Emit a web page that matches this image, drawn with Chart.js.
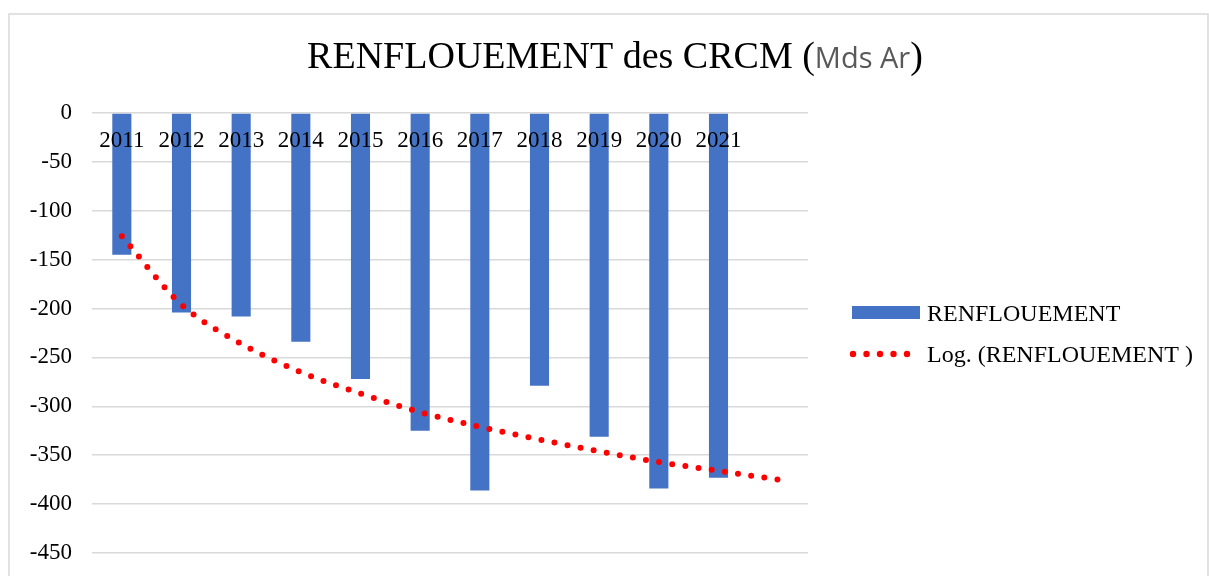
<!DOCTYPE html>
<html>
<head>
<meta charset="utf-8">
<script src="https://cdn.jsdelivr.net/npm/chart.js@4/dist/chart.umd.min.js"></script>
<style>
    html, body { margin: 0; padding: 0; background: #ffffff; }
    canvas { display: block; }
</style>
</head>
<body>
<canvas id="chart" width="1209" height="576"></canvas>
<script>

// Data
const years = ['2011', '2012', '2013', '2014', '2015', '2016', '2017', '2018', '2019', '2020', '2021', ''];
const renflouement = [-145, -204, -208, -234, -272, -325, -386, -279, -331, -384, -373];
const logTrend = [-126, -196, -236, -265, -287, -306, -321, -334, -346, -357, -366, -375];
const yTicks = [0, -50, -100, -150, -200, -250, -300, -350, -400, -450];

// Labels
const titleParts = [
    { text: 'RENFLOUEMENT des CRCM (', font: '38px "Liberation Serif"', color: '#000000' },
    { text: 'Mds Ar', font: '29px "Open Sans"', color: '#595959' },
    { text: ')', font: '38px "Liberation Serif"', color: '#000000' }
];
const barLabel = 'RENFLOUEMENT';
const trendLabel = 'Log. (RENFLOUEMENT )';

// Colors
const barColor = '#4472C4';
const trendColor = '#FF0000';
const gridColor = '#d9d9d9';

// Outer Frame
const framePlugin = {
    id: 'frame',
    beforeDraw: function (chart) {
        const ctx = chart.ctx;
        ctx.save();
        ctx.strokeStyle = gridColor;
        ctx.lineWidth = 1.5;
        ctx.strokeRect(9, 14, 1199, 600);
        ctx.restore();
    }
};

// Title (mixed fonts)
const titlePlugin = {
    id: 'mixedTitle',
    afterDraw: function (chart) {
        const ctx = chart.ctx;
        ctx.save();
        ctx.textBaseline = 'alphabetic';
        ctx.textAlign = 'left';

        // Total Width
        let total = 0;
        for (const part of titleParts) {
            ctx.font = part.font;
            part.width = ctx.measureText(part.text).width;
            total += part.width;
        }

        // Draw Parts
        let x = 615 - total / 2;
        for (const part of titleParts) {
            ctx.font = part.font;
            ctx.fillStyle = part.color;
            ctx.fillText(part.text, x, 68);
            x += part.width;
        }
        ctx.restore();
    }
};

// Legend
const legendPlugin = {
    id: 'sideLegend',
    afterDraw: function (chart) {
        const ctx = chart.ctx;
        ctx.save();

        // Bar Item
        ctx.fillStyle = barColor;
        ctx.fillRect(852, 306, 68, 13);

        // Trend Item
        ctx.fillStyle = trendColor;
        for (let i = 0; i < 5; i++) {
            ctx.beginPath();
            ctx.arc(853 + i * 13.5, 354, 3.2, 0, Math.PI * 2);
            ctx.fill();
        }

        // Texts
        ctx.fillStyle = '#000000';
        ctx.font = '24px "Liberation Serif"';
        ctx.textBaseline = 'alphabetic';
        ctx.fillText(barLabel, 927, 321);
        ctx.fillText(trendLabel, 927, 362);
        ctx.restore();
    }
};

// Create Chart
const ctx = document.getElementById('chart').getContext('2d');
const chart = new Chart(ctx, {
    type: 'bar',
    data: {
        labels: years,
        datasets: [

            // Bars
            {
                label: barLabel,
                data: renflouement,
                backgroundColor: barColor,
                borderWidth: 0,
                barPercentage: 0.32,
                categoryPercentage: 1,
                order: 2
            },

            // Log Trend
            {
                type: 'line',
                label: trendLabel,
                data: logTrend,
                borderColor: trendColor,
                borderWidth: 6,
                borderDash: [0, 13.3],
                borderCapStyle: 'round',
                cubicInterpolationMode: 'monotone',
                pointRadius: 0,
                fill: false,
                order: 1
            }
        ]
    },
    options: {
        responsive: false,
        animation: false,
        devicePixelRatio: 1,
        layout: {
            padding: { top: 113, right: 401, bottom: 23, left: 0 }
        },
        plugins: {
            legend: { display: false },
            title: { display: false },
            tooltip: { enabled: false }
        },
        scales: {
            x: {
                position: { y: 0 },
                offset: true,
                afterFit: function (scale) {
                    scale.height = 0;
                },
                grid: { display: false, drawTicks: false },
                border: { display: false },
                ticks: {
                    z: 1,
                    color: '#000000',
                    font: { family: 'Liberation Serif', size: 23 },
                    padding: 14,
                    maxRotation: 0,
                    autoSkip: false
                }
            },
            y: {
                min: yTicks[yTicks.length - 1],
                max: yTicks[0],
                afterBuildTicks: function (scale) {
                    scale.ticks = yTicks.map(function (v) { return { value: v }; });
                },
                afterFit: function (scale) {
                    scale.width = 92;
                },
                grid: {
                    color: gridColor,
                    lineWidth: 1.5,
                    drawTicks: true,
                    tickLength: 20,
                    tickColor: 'rgba(0,0,0,0)'
                },
                border: { display: false },
                ticks: {
                    color: '#000000',
                    font: { family: 'Liberation Serif', size: 23 },
                    padding: 0
                }
            }
        }
    },
    plugins: [framePlugin, titlePlugin, legendPlugin]
});

</script>
</body>
</html>
